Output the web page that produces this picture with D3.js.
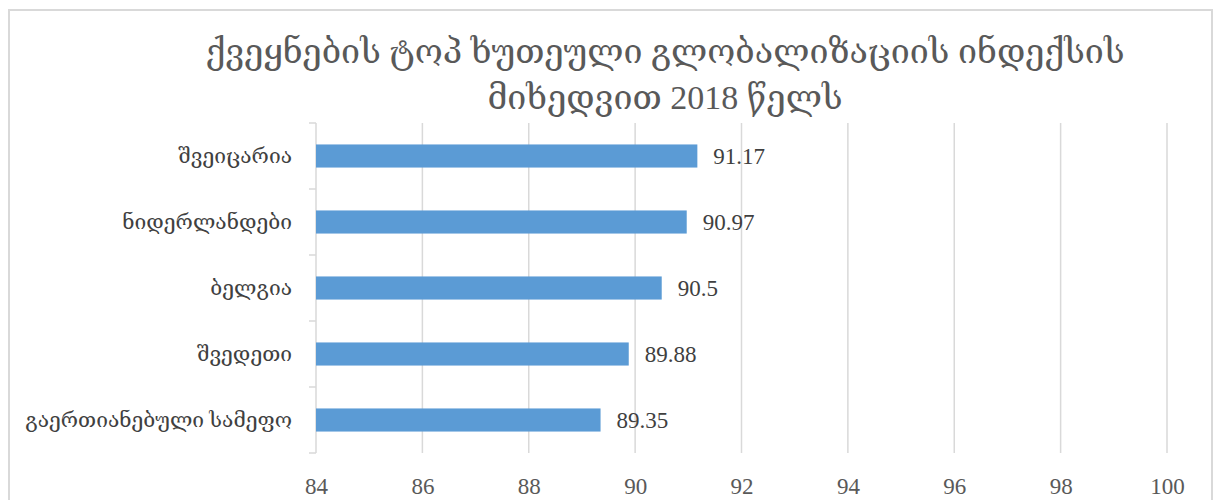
<!DOCTYPE html>
<html>
<head>
<meta charset="utf-8">
<script src="https://cdn.jsdelivr.net/npm/d3@7"></script>
<style>
  body { margin: 0; background: #fff; }
  svg text { font-family: "Liberation Serif", "DejaVu Serif", serif; }
</style>
</head>
<body>
<svg id="chart" width="1216" height="500"></svg>
<script>
const titleLines = ["ქვეყნების ტოპ ხუთეული გლობალიზაციის ინდექსის", "მიხედვით 2018 წელს"];
const countries = ["შვეიცარია", "ნიდერლანდები", "ბელგია", "შვედეთი", "გაერთიანებული სამეფო"];
const scores = [91.17, 90.97, 90.5, 89.88, 89.35];
const xTicks = [84, 86, 88, 90, 92, 94, 96, 98, 100];

const svg = d3.select("#chart");
const margin = { top: 123, left: 316, right: 1167, bottom: 453 };

// chart frame
svg.append("rect")
    .attr("x", 9).attr("y", 10)
    .attr("width", 1203).attr("height", 500)
    .attr("fill", "#fff")
    .attr("stroke", "#d9d9d9")
    .attr("stroke-width", 2);

const x = d3.scaleLinear().domain([84, 100]).range([margin.left, margin.right]);
const y = d3.scaleBand().domain(countries).range([margin.top, margin.bottom]).paddingInner(0.65).paddingOuter(0.325);
const band = d3.scaleBand().domain(countries).range([margin.top, margin.bottom]);

// gridlines
svg.append("g")
    .selectAll("line")
    .data(xTicks.slice(1))
    .join("line")
    .attr("x1", d => x(d)).attr("x2", d => x(d))
    .attr("y1", margin.top).attr("y2", margin.bottom)
    .attr("stroke", "#d9d9d9")
    .attr("stroke-width", 1.5);

// x tick labels
const xAxis = d3.axisBottom(x).tickValues(xTicks).tickSize(0).tickPadding(0);
const gx = svg.append("g").attr("transform", `translate(0,${margin.bottom})`).call(xAxis);
gx.select(".domain").remove();
gx.selectAll("text")
    .attr("dy", null)
    .attr("y", 41)
    .attr("font-size", 23)
    .attr("font-family", "Liberation Serif, serif")
    .attr("fill", "#595959");

// y axis line and ticks on band boundaries
const gy = svg.append("g");
gy.append("line")
    .attr("x1", margin.left).attr("x2", margin.left)
    .attr("y1", margin.top).attr("y2", margin.bottom)
    .attr("stroke", "#d9d9d9").attr("stroke-width", 1.5);
const bounds = countries.map(c => band(c)).concat([margin.bottom]);
gy.selectAll("line.tk")
    .data(bounds)
    .join("line")
    .attr("class", "tk")
    .attr("x1", margin.left - 7).attr("x2", margin.left)
    .attr("y1", d => d).attr("y2", d => d)
    .attr("stroke", "#d9d9d9").attr("stroke-width", 1.5);

// category labels
svg.append("g")
    .selectAll("text")
    .data(countries)
    .join("text")
    .attr("x", 292)
    .attr("y", d => band(d) + band.bandwidth() / 2)
    .attr("dy", "0.35em")
    .attr("text-anchor", "end")
    .attr("font-size", 21)
    .attr("font-family", "DejaVu Serif, DejaVu Sans, serif")
    .attr("fill", "#404040")
    .text(d => d);

// bars
svg.append("g")
    .selectAll("rect")
    .data(countries)
    .join("rect")
    .attr("x", x(84))
    .attr("y", d => y(d))
    .attr("width", (d, i) => x(scores[i]) - x(84))
    .attr("height", y.bandwidth())
    .attr("fill", "#5b9bd5");

// value labels
svg.append("g")
    .selectAll("text")
    .data(countries)
    .join("text")
    .attr("x", (d, i) => x(scores[i]) + 16)
    .attr("y", d => band(d) + band.bandwidth() / 2)
    .attr("dy", "0.35em")
    .attr("font-size", 23)
    .attr("fill", "#404040")
    .text((d, i) => scores[i]);

// title
svg.append("g")
    .selectAll("text")
    .data(titleLines)
    .join("text")
    .attr("x", 665)
    .attr("y", (d, i) => 63 + i * 46)
    .attr("text-anchor", "middle")
    .attr("font-size", 34)
    .attr("font-family", "DejaVu Sans Condensed, DejaVu Sans, sans-serif")
    .attr("fill", "#595959")
    .text(d => d);
</script>
</body>
</html>
